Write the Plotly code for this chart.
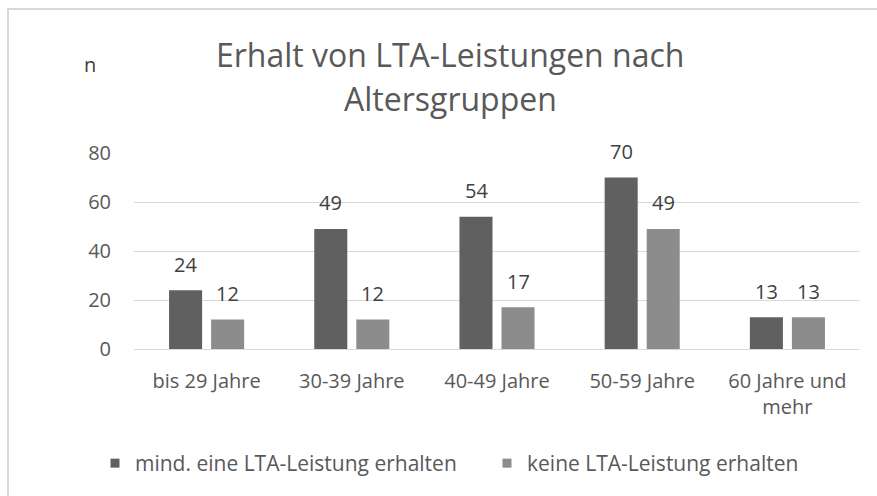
import plotly.graph_objects as go

# Data
categories = ["bis 29 Jahre", "30-39 Jahre", "40-49 Jahre", "50-59 Jahre", "60 Jahre und<br>mehr"]
series_names = ["mind. eine LTA-Leistung erhalten", "keine LTA-Leistung erhalten"]
mit_leistung = [24, 49, 54, 70, 13]
ohne_leistung = [12, 12, 17, 49, 13]
y_ticks = [0, 20, 40, 60, 80]
title_lines = ["Erhalt von LTA-Leistungen nach", "Altersgruppen"]

W, H = 877, 496
ML, MR, MT, MB = 134, 17, 153, 147
PW, PH = W - ML - MR, H - MT - MB

def px_to_paper_x(px):
    return (px - ML) / PW

def px_to_paper_y(py):
    return (H - MB - py) / PH

colors = ["#606060", "#8c8c8c"]
legend_ids = ["legend", "legend2"]
legend_left = [95, 487]
font = "Open Sans"

fig = go.Figure()
for name, vals, col, lg in zip(series_names, [mit_leistung, ohne_leistung], colors, legend_ids):
    fig.add_trace(go.Bar(x=categories, y=vals, name=name, marker_color=col,
                         marker_line_width=0, showlegend=False, hoverinfo="skip"))
    # square legend swatch
    fig.add_trace(go.Scatter(x=[None], y=[None], mode="markers", name=name, legend=lg,
                             marker=dict(symbol="square", size=9, color=col)))

# value labels above the bars
for vals, shift in [(mit_leistung, -21), (ohne_leistung, 21)]:
    for c, v in zip(categories, vals):
        fig.add_annotation(x=c, y=v, text=str(v), showarrow=False, xshift=shift,
                           yshift=26, yanchor="middle",
                           font=dict(family=font, size=20, color="#404040"))

# chart title, two centred lines
for line, cy in zip(title_lines, [54, 98]):
    fig.add_annotation(xref="paper", yref="paper", x=px_to_paper_x(450), y=px_to_paper_y(cy),
                       text=line, showarrow=False, xanchor="center", yanchor="middle",
                       font=dict(family=font, size=32, color="#595959"))

# axis caption
fig.add_annotation(xref="paper", yref="paper", x=px_to_paper_x(90), y=px_to_paper_y(65),
                   text="n", showarrow=False, xanchor="center", yanchor="middle",
                   font=dict(family=font, size=20, color="#404040"))

# chart frame
fig.add_shape(type="rect", xref="paper", yref="paper",
              x0=px_to_paper_x(8), x1=px_to_paper_x(W + 20),
              y0=px_to_paper_y(H + 20), y1=px_to_paper_y(9),
              line=dict(color="#d9d9d9", width=2), layer="below")

legend_style = dict(orientation="h", xref="container", yref="container",
                    y=1 - 443 / H, xanchor="left", yanchor="top",
                    font=dict(family=font, size=21, color="#595959"),
                    bgcolor="rgba(0,0,0,0)")

fig.update_layout(
    width=W, height=H,
    margin=dict(l=ML, r=MR, t=MT, b=MB, autoexpand=False),
    paper_bgcolor="white", plot_bgcolor="white",
    barmode="group", bargap=0.421, bargroupgap=0.214,
    legend=dict(x=legend_left[0] / W, **legend_style),
    legend2=dict(x=legend_left[1] / W, **legend_style),
    font=dict(family=font, color="#595959"),
)
fig.update_xaxes(showline=False, ticks="", tickfont=dict(family=font, size=20, color="#595959"),
                 ticklabelstandoff=18)
fig.update_yaxes(range=[0, 80], tickvals=y_ticks, showgrid=True, gridcolor="#d9d9d9",
                 gridwidth=1, zeroline=True, zerolinecolor="#d9d9d9", zerolinewidth=1,
                 tickfont=dict(family=font, size=20, color="#595959"), ticklabelstandoff=22)

fig.write_html("out.html")
